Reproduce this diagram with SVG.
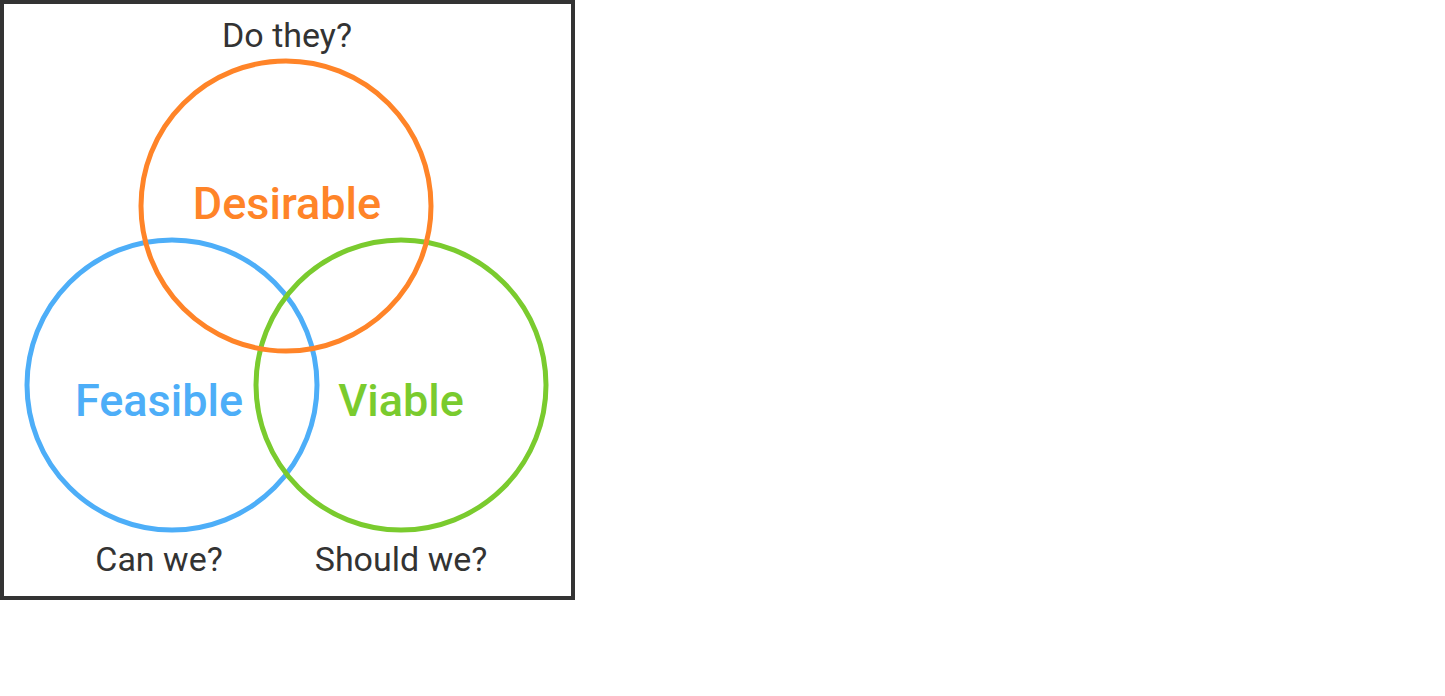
<svg xmlns="http://www.w3.org/2000/svg" width="1445" height="696" viewBox="0 0 1445 696">
  <style>
    .ring { fill: none; stroke-width: 5; }
    .q { font-family: Roboto, "Liberation Sans", sans-serif; font-size: 34px; fill: #333333; text-anchor: middle; }
    .name { font-family: Roboto, "Liberation Sans", sans-serif; font-size: 45px; font-weight: 500; text-anchor: middle; }
  </style>
  <rect x="0" y="0" width="1445" height="696" fill="#ffffff"/>
  <!-- framed panel -->
  <rect id="frame" x="2" y="2" width="571" height="596" fill="#ffffff" stroke="#333333" stroke-width="4"/>

  <g id="feasible">
    <circle class="ring" cx="172" cy="385" r="145" stroke="#4DAEF8"/>
    <text class="name" x="159" y="416" fill="#4DAEF8">Feasible</text>
    <text class="q" x="159" y="571">Can we?</text>
  </g>
  <g id="viable">
    <circle class="ring" cx="401" cy="385" r="145" stroke="#7ACB2E"/>
    <text class="name" x="401" y="416" fill="#7ACB2E">Viable</text>
    <text class="q" x="401" y="571">Should we?</text>
  </g>
  <g id="desirable">
    <circle class="ring" cx="286" cy="206" r="145" stroke="#FF8428"/>
    <text class="name" x="287" y="219" fill="#FF8428">Desirable</text>
    <text class="q" x="287" y="47">Do they?</text>
  </g>
  <g id="connectors"/>
</svg>
